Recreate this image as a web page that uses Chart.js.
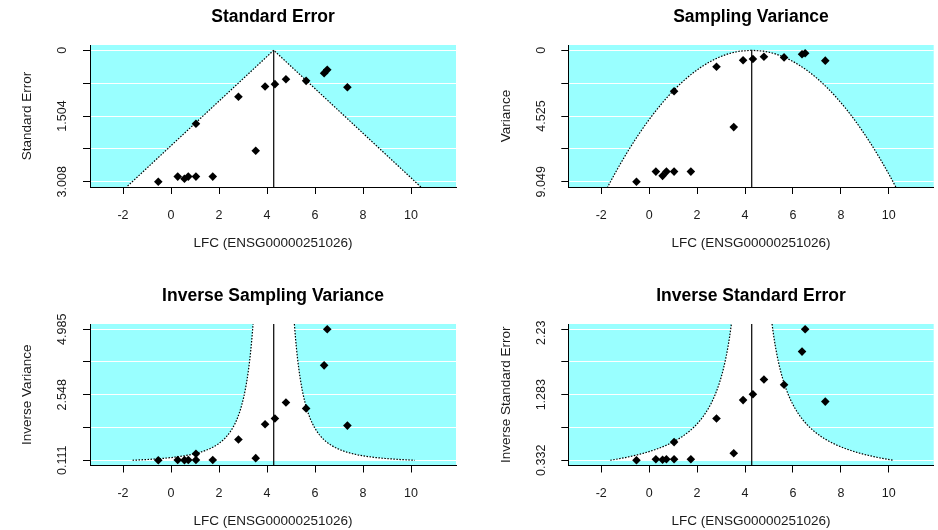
<!DOCTYPE html>
<html>
<head>
<meta charset="utf-8">
<script src="https://cdn.jsdelivr.net/npm/chart.js@4.4.1/dist/chart.umd.min.js"></script>
<style>
  body { margin: 0; background: #fff; width: 938px; height: 530px; overflow: hidden; position: relative; }
  canvas { position: absolute; }
</style>
</head>
<body>
<canvas id="c1" width="469" height="265" style="left:0;top:0"></canvas>
<canvas id="c2" width="469" height="265" style="left:469px;top:0"></canvas>
<canvas id="c3" width="469" height="265" style="left:0;top:265px"></canvas>
<canvas id="c4" width="469" height="265" style="left:469px;top:265px"></canvas>
<script>
/* funnel plots for one gene, four y metrics */

// studies: log fold change and its standard error
const lfc = [-0.53, 0.28, 0.56, 0.72, 1.04, 1.74, 1.04, 2.81, 3.53, 3.92, 4.33, 4.79, 5.63, 6.38, 6.51, 7.35];
const stdErr = [3.008, 2.89, 2.94, 2.89, 2.89, 2.89, 1.68, 1.065, 2.3, 0.83, 0.775, 0.665, 0.70, 0.524, 0.448, 0.845];

const estimate = 4.28; // pooled LFC (vertical line)
const zCrit = 1.96;

const xTicks = [-2, 0, 2, 4, 6, 8, 10];
const xTitle = "LFC (ENSG00000251026)";

const panelTitles = ["Standard Error", "Sampling Variance", "Inverse Sampling Variance", "Inverse Standard Error"];
const yTitles = ["Standard Error", "Variance", "Inverse Variance", "Inverse Standard Error"];

const seTicks = [0, 0.752, 1.504, 2.256, 3.008];
const seLabels = ["0", "", "1.504", "", "3.008"];
const varTicks = [0, 2.262, 4.525, 6.787, 9.049];
const varLabels = ["0", "", "4.525", "", "9.049"];
const invVarTicks = [0.111, 1.3295, 2.548, 3.7665, 4.985];
const invVarLabels = ["0.111", "", "2.548", "", "4.985"];
const invSeTicks = [0.332, 0.8075, 1.283, 1.758, 2.233];
const invSeLabels = ["0.332", "", "1.283", "", "2.233"];

const CYAN = "rgb(153,255,255)";
const FONT = "'Liberation Sans', Arial, sans-serif";
const INK = "#1a1a1a";

const panels = [
  { id: "c1", ticks: seTicks, labels: seLabels, min: -0.12, max: 3.128, reverse: true,
    toY: s => s, toSE: y => y, fFrom: 0, fTo: 3.128, vFrom: 0, vTo: 3.128,
    pad: { left: 83, right: 13, top: 45, bottom: 71 } },
  { id: "c2", ticks: varTicks, labels: varLabels, min: -0.362, max: 9.411, reverse: true,
    toY: s => s * s, toSE: y => Math.sqrt(y), fFrom: 0, fTo: 9.411, vFrom: 0, vTo: 9.411,
    pad: { left: 92.3, right: 3.7, top: 45, bottom: 71 } },
  { id: "c3", ticks: invVarTicks, labels: invVarLabels, min: -0.084, max: 5.18, reverse: false,
    toY: s => 1 / (s * s), toSE: y => 1 / Math.sqrt(y), fFrom: 0.111, fTo: 5.18, vFrom: -0.084, vTo: 5.18,
    pad: { left: 83, right: 13, top: 59, bottom: 57.5 } },
  { id: "c4", ticks: invSeTicks, labels: invSeLabels, min: 0.256, max: 2.309, reverse: false,
    toY: s => 1 / s, toSE: y => 1 / y, fFrom: 0.332, fTo: 2.309, vFrom: 0.256, vTo: 2.309,
    pad: { left: 92.3, right: 3.7, top: 59, bottom: 57.5 }, clipLabel: 4 }
];

// funnel bound (estimate +/- 1.96 se) traced along the y axis
function funnelSide(p, sign) {
  const pts = [];
  const n = 150;
  for (let i = 0; i <= n; i++) {
    const y = p.fFrom + (p.fTo - p.fFrom) * i / n;
    pts.push({ x: estimate + sign * zCrit * p.toSE(y), y: y });
  }
  return sign < 0 ? pts : pts.reverse();
}

const decorations = {
  id: "decorations",
  beforeDraw(chart) {
    const a = chart.chartArea;
    const ctx = chart.ctx;
    ctx.save();
    ctx.fillStyle = CYAN;
    ctx.fillRect(a.left, a.top, a.right - a.left, a.bottom - a.top);
    ctx.restore();
  },
  beforeDatasetsDraw(chart) {
    // white region inside the funnel
    const a = chart.chartArea;
    const ctx = chart.ctx;
    const pts = chart.getDatasetMeta(2).data.concat(chart.getDatasetMeta(3).data);
    ctx.save();
    ctx.beginPath();
    ctx.rect(a.left, a.top, a.right - a.left, a.bottom - a.top);
    ctx.clip();
    ctx.beginPath();
    pts.forEach((pt, i) => (i ? ctx.lineTo(pt.x, pt.y) : ctx.moveTo(pt.x, pt.y)));
    ctx.closePath();
    ctx.fillStyle = "#fff";
    ctx.fill();
    ctx.restore();
  },
  afterDraw(chart, args, opts) {
    const a = chart.chartArea;
    const ctx = chart.ctx;
    const xs = chart.scales.x;
    const ys = chart.scales.y;
    const cx = (a.left + a.right) / 2;
    const cy = (a.top + a.bottom) / 2;
    ctx.save();
    ctx.fillStyle = "#000";
    ctx.textAlign = "center";
    ctx.textBaseline = "middle";

    ctx.font = "bold 17.5px " + FONT;
    ctx.fillText(opts.title, cx, a.top - 27.5);

    ctx.fillStyle = INK;
    ctx.font = "13.5px " + FONT;
    ctx.fillText(xTitle, cx, a.bottom + 56);

    ctx.font = "12.5px " + FONT;
    xTicks.forEach(v => ctx.fillText(String(v), xs.getPixelForValue(v), a.bottom + 28.5));

    ctx.save();
    ctx.translate(a.left - 62.5, cy);
    ctx.rotate(-Math.PI / 2);
    ctx.font = "13.5px " + FONT;
    ctx.fillText(opts.yTitle, 0, 0);
    ctx.restore();

    if (opts.clipLabel) {
      ctx.beginPath();
      ctx.rect(0, a.top - opts.clipLabel, a.left, chart.height);
      ctx.clip();
    }
    ctx.font = "12.5px " + FONT;
    opts.ticks.forEach((v, i) => {
      if (!opts.labels[i]) return;
      ctx.save();
      ctx.translate(a.left - 27, ys.getPixelForValue(v));
      ctx.rotate(-Math.PI / 2);
      ctx.fillText(opts.labels[i], 0, 0);
      ctx.restore();
    });
    ctx.restore();
  }
};

panels.forEach((p, k) => {
  const points = lfc.map((x, i) => ({ x: x, y: p.toY(stdErr[i]) }));
  new Chart(document.getElementById(p.id), {
    type: "scatter",
    data: {
      datasets: [
        { data: points, pointStyle: "rectRot", pointRadius: 4.3, backgroundColor: "#000", borderColor: "#000", borderWidth: 0 },
        { data: [{ x: estimate, y: p.vFrom }, { x: estimate, y: p.vTo }], showLine: true, pointRadius: 0, borderColor: "#000", borderWidth: 1.2 },
        { data: funnelSide(p, -1), showLine: true, pointRadius: 0, borderColor: "#000", borderWidth: 1.2, borderDash: [1.5, 1.5] },
        { data: funnelSide(p, 1), showLine: true, pointRadius: 0, borderColor: "#000", borderWidth: 1.2, borderDash: [1.5, 1.5] }
      ]
    },
    options: {
      responsive: false,
      animation: false,
      layout: { padding: p.pad },
      plugins: {
        legend: { display: false },
        tooltip: { enabled: false },
        decorations: { title: panelTitles[k], yTitle: yTitles[k], ticks: p.ticks, labels: p.labels, clipLabel: p.clipLabel }
      },
      scales: {
        x: {
          type: "linear", min: -3.375, max: 11.875,
          afterBuildTicks: s => { s.ticks = xTicks.map(v => ({ value: v })); },
          afterFit: s => { s.height = 7; },
          ticks: { display: false },
          grid: { drawOnChartArea: false, tickLength: 7, tickColor: "#000" },
          border: { color: "#000", width: 1, z: 1 }
        },
        y: {
          type: "linear", min: p.min, max: p.max, reverse: p.reverse,
          afterBuildTicks: s => { s.ticks = p.ticks.map(v => ({ value: v })); },
          afterFit: s => { s.width = 7; },
          ticks: { display: false },
          grid: { color: "#fff", lineWidth: 1, tickLength: 7, tickColor: "#000" },
          border: { color: "#000", width: 1, z: 1 }
        }
      }
    },
    plugins: [decorations]
  });
});
</script>
</body>
</html>
